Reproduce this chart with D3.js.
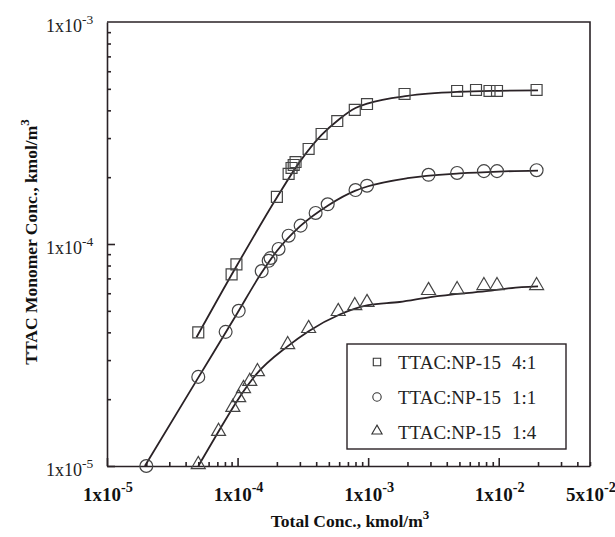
<!DOCTYPE html>
<html>
<head>
<meta charset="utf-8">
<script src="https://cdn.jsdelivr.net/npm/d3@7"></script>
<style>
  body { margin: 0; background: #fff; }
  svg { display: block; font-family: "Liberation Serif", "Times New Roman", serif; }
</style>
</head>
<body>
<div id="chart"></div>
<script>
/* ============================================================
   TTAC monomer conc. vs total conc. (log-log)
   ============================================================ */

// series names
var seriesNames = ['4:1', '1:1', '1:4'];

// measured points [total, monomer]  (kmol/m3)
var squarePts = [
    [5.0e-5, 4.0e-5], [9.0e-5, 7.3e-5], [9.8e-5, 8.1e-5], [2.0e-4, 1.63e-4],
    [2.46e-4, 2.07e-4], [2.59e-4, 2.2e-4], [2.69e-4, 2.27e-4], [2.78e-4, 2.34e-4],
    [3.5e-4, 2.68e-4], [4.4e-4, 3.13e-4], [5.8e-4, 3.58e-4], [7.9e-4, 4.02e-4],
    [9.8e-4, 4.27e-4], [1.9e-3, 4.74e-4], [4.8e-3, 4.89e-4], [6.7e-3, 4.94e-4],
    [8.5e-3, 4.89e-4], [9.7e-3, 4.89e-4], [1.95e-2, 4.94e-4]
];
var circlePts = [
    [2.0e-5, 1.0e-5], [5.0e-5, 2.52e-5], [8.1e-5, 4.02e-5], [1.02e-4, 5.0e-5],
    [1.53e-4, 7.55e-5], [1.73e-4, 8.4e-5], [1.79e-4, 8.65e-5], [2.06e-4, 9.5e-5],
    [2.46e-4, 1.09e-4], [3.04e-4, 1.21e-4], [3.96e-4, 1.38e-4], [4.9e-4, 1.51e-4],
    [8.0e-4, 1.75e-4], [9.8e-4, 1.83e-4], [2.9e-3, 2.05e-4], [4.8e-3, 2.09e-4],
    [7.7e-3, 2.13e-4], [9.7e-3, 2.13e-4], [1.95e-2, 2.15e-4]
];
var trianglePts = [
    [5.0e-5, 1.0e-5], [7.15e-5, 1.41e-5], [9.2e-5, 1.81e-5], [1.02e-4, 2.0e-5],
    [1.11e-4, 2.2e-5], [1.24e-4, 2.37e-5], [1.42e-4, 2.62e-5], [2.42e-4, 3.47e-5],
    [3.5e-4, 4.1e-5], [5.9e-4, 4.89e-5], [7.9e-4, 5.2e-5], [9.8e-4, 5.37e-5],
    [2.9e-3, 6.08e-5], [4.8e-3, 6.14e-5], [7.7e-3, 6.4e-5], [9.7e-3, 6.4e-5],
    [1.95e-2, 6.4e-5]
];

// fitted curves
var squareFit = [
    [4.85e-5, 3.8e-5], [1e-4, 8.1e-5], [2e-4, 1.62e-4], [3e-4, 2.35e-4],
    [4.4e-4, 3.1e-4], [6e-4, 3.65e-4], [8e-4, 4.1e-4], [1e-3, 4.3e-4],
    [2e-3, 4.65e-4], [5e-3, 4.85e-4], [1e-2, 4.9e-4], [2e-2, 4.92e-4]
];
var circleFit = [
    [1.95e-5, 1e-5], [5e-5, 2.5e-5], [1e-4, 4.9e-5], [1.5e-4, 7.3e-5],
    [2e-4, 9.3e-5], [3e-4, 1.2e-4], [5e-4, 1.5e-4], [8e-4, 1.74e-4],
    [1e-3, 1.82e-4], [2e-3, 1.98e-4], [5e-3, 2.08e-4], [1e-2, 2.12e-4], [2e-2, 2.14e-4]
];
var triangleFit = [
    [5e-5, 1e-5], [7e-5, 1.4e-5], [1e-4, 1.98e-5], [1.4e-4, 2.6e-5],
    [2.4e-4, 3.45e-5], [3.5e-4, 4.05e-5], [6e-4, 4.8e-5], [1e-3, 5.3e-5],
    [1.74e-3, 5.48e-5], [3e-3, 5.77e-5], [8e-3, 6.14e-5], [1.5e-2, 6.4e-5], [2e-2, 6.45e-5]
];

// tick labels [value, mantissa, exponent]
var xTickLabels = [[1e-5, '1', '-5'], [1e-4, '1', '-4'], [1e-3, '1', '-3'], [1e-2, '1', '-2'], [5e-2, '5', '-2']];
var yTickLabels = [[1e-3, '1', '-3'], [1e-4, '1', '-4'], [1e-5, '1', '-5']];

var W = 615, H = 537;
var M = {left: 107, right: 25, top: 22, bottom: 71};

var svg = d3.select('#chart').append('svg')
    .attr('width', W)
    .attr('height', H);

var x = d3.scaleLog().domain([1e-5, 5e-2]).range([M.left, W - M.right]);
var y = d3.scaleLog().domain([1e-5, 1e-3]).range([H - M.bottom, M.top]);

var ink = '#2a2226';

// minor + major tick values
var xTicks = [], yTicks = [];
[-5, -4, -3, -2].forEach(function(e) {
    for (var m = 1; m <= 9; m++) {
        var v = m * Math.pow(10, e);
        if (v <= 5e-2 * 1.0001) xTicks.push(v);
    }
});
[-5, -4].forEach(function(e) {
    for (var m = 1; m <= 9; m++) yTicks.push(m * Math.pow(10, e));
});

function isDecade(d) {
    return Math.abs(Math.log10(d) - Math.round(Math.log10(d))) < 1e-6;
}

// Axes (ticks point inward)
var xAxis = svg.append('g')
    .attr('transform', 'translate(0,' + (H - M.bottom) + ')')
    .call(d3.axisBottom(x).tickValues(xTicks).tickFormat('')
        .tickSizeInner(0).tickSizeOuter(0));
xAxis.selectAll('.tick line')
    .attr('y2', function(d) { return isDecade(d) ? -8 : -4; });

var yAxis = svg.append('g')
    .attr('transform', 'translate(' + M.left + ',0)')
    .call(d3.axisLeft(y).tickValues(yTicks).tickFormat('')
        .tickSizeInner(0).tickSizeOuter(0));
yAxis.selectAll('.tick line')
    .attr('x2', function(d) { return isDecade(d) ? 8 : 4; });

svg.selectAll('.domain, .tick line')
    .attr('stroke', ink)
    .attr('stroke-width', 1.6);

// top + right border
svg.append('path')
    .attr('d', 'M' + M.left + ',' + M.top + 'H' + (W - M.right) + 'V' + (H - M.bottom))
    .attr('fill', 'none')
    .attr('stroke', ink)
    .attr('stroke-width', 1.6);

// Tick labels with superscript exponents
function sciLabel(g, m, e, size) {
    g.append('tspan').text(m + 'x10');
    g.append('tspan')
        .attr('dy', -size * 0.45)
        .attr('font-size', size * 0.75)
        .text(e);
}

xTickLabels.forEach(function(t) {
    var txt = svg.append('text')
        .attr('x', x(t[0]) + 1)
        .attr('y', H - M.bottom + 35)
        .attr('text-anchor', 'middle')
        .attr('font-size', 19)
        .attr('font-weight', 'bold')
        .attr('fill', '#111');
    sciLabel(txt, t[1], t[2], 19);
});

yTickLabels.forEach(function(t) {
    var txt = svg.append('text')
        .attr('x', 46)
        .attr('y', y(t[0]) + 10)
        .attr('font-size', 18)
        .attr('fill', '#222');
    sciLabel(txt, t[1], t[2], 18);
});

// Axis titles
var xt = svg.append('text')
    .attr('x', 350)
    .attr('y', 527)
    .attr('text-anchor', 'middle')
    .attr('font-size', 17.5)
    .attr('font-weight', 'bold')
    .attr('fill', '#111');
xt.append('tspan').text('Total Conc., kmol/m');
xt.append('tspan').attr('dy', -8).attr('font-size', 13).text('3');

var yt = svg.append('text')
    .attr('transform', 'translate(37,242) rotate(-90)')
    .attr('text-anchor', 'middle')
    .attr('font-size', 17.5)
    .attr('font-weight', 'bold')
    .attr('fill', '#111');
yt.append('tspan').text('TTAC Monomer Conc., kmol/m');
yt.append('tspan').attr('dy', -8).attr('font-size', 13).text('3');

// Fitted lines
var line = d3.line()
    .x(function(d) { return x(d[0]); })
    .y(function(d) { return y(d[1]); })
    .curve(d3.curveMonotoneX);

[squareFit, circleFit, triangleFit].forEach(function(fit) {
    svg.append('path')
        .datum(fit)
        .attr('fill', 'none')
        .attr('stroke', ink)
        .attr('stroke-width', 1.8)
        .attr('d', line);
});

// Markers
var sym = [d3.symbolSquare, d3.symbolCircle, d3.symbolTriangle];
var symSize = [120, 130, 85];
[squarePts, circlePts, trianglePts].forEach(function(pts, i) {
    svg.append('g').selectAll('path')
        .data(pts)
        .enter().append('path')
        .attr('transform', function(d) {
            return 'translate(' + x(d[0]) + ',' + (y(d[1]) - (i === 2 ? 1.5 : 0)) + ')';
        })
        .attr('d', d3.symbol().type(sym[i]).size(symSize[i]))
        .attr('fill', 'none')
        .attr('stroke', '#444')
        .attr('stroke-width', 1.2);
});

// Legend
var lg = svg.append('g');
lg.append('rect')
    .attr('x', 347).attr('y', 344)
    .attr('width', 219).attr('height', 105)
    .attr('fill', '#fff')
    .attr('stroke', ink)
    .attr('stroke-width', 1.4);

seriesNames.forEach(function(name, i) {
    var cy = 362 + i * 35;
    lg.append('path')
        .attr('transform', 'translate(377,' + (cy - (i === 2 ? 1 : 0)) + ')')
        .attr('d', d3.symbol().type(sym[i]).size(i === 2 ? 45 : 55))
        .attr('fill', 'none')
        .attr('stroke', '#333')
        .attr('stroke-width', 1.1);
    lg.append('text')
        .attr('x', 398).attr('y', cy + 7)
        .attr('font-size', 19)
        .attr('fill', '#222')
        .text('TTAC:NP-15');
    lg.append('text')
        .attr('x', 512).attr('y', cy + 7)
        .attr('font-size', 19)
        .attr('fill', '#222')
        .text(name);
});
</script>
</body>
</html>
